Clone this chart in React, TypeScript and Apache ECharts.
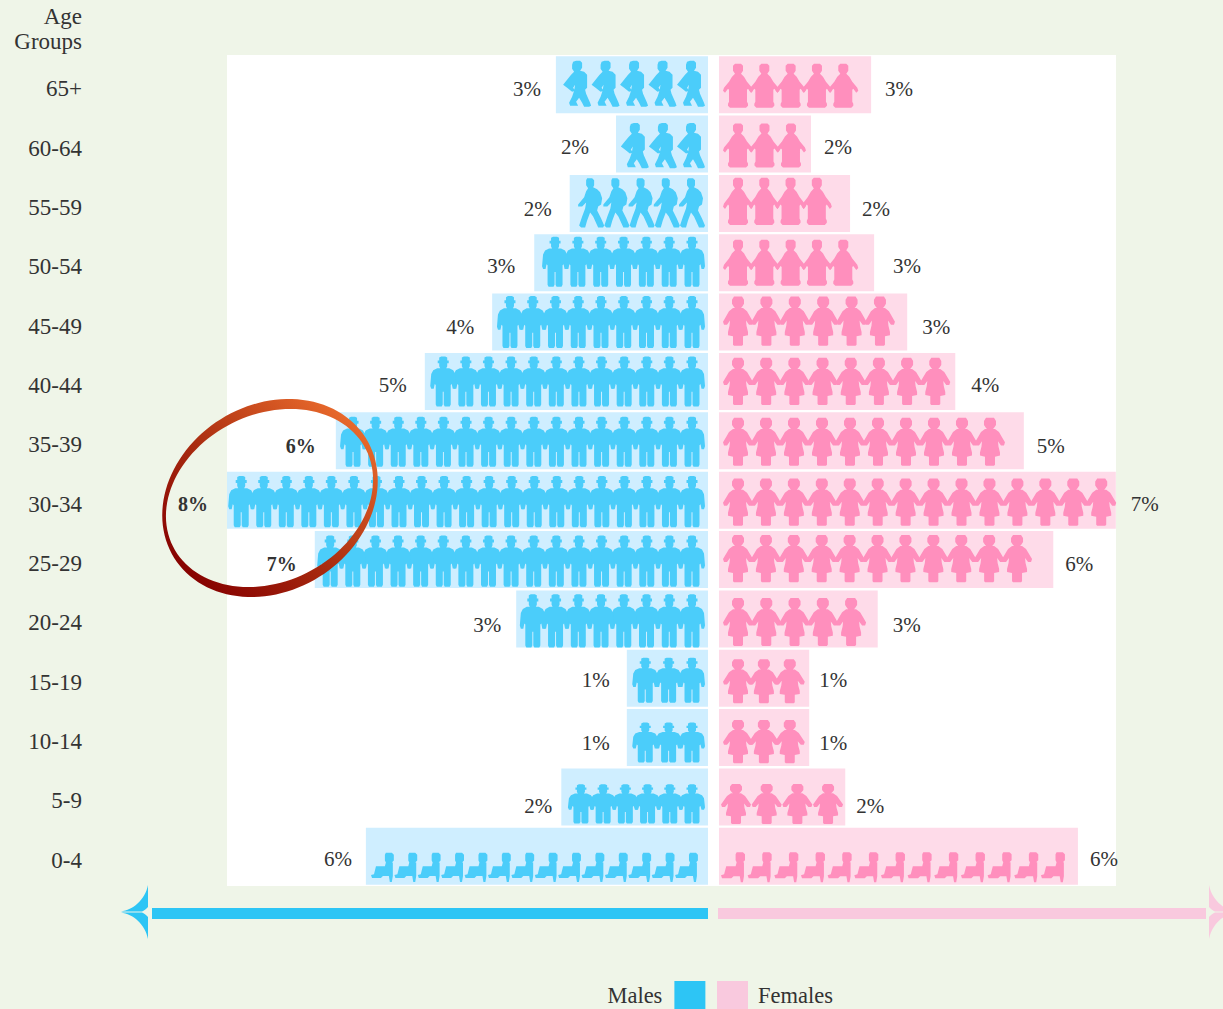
import React, { useEffect, useRef } from "react";
import * as echarts from "echarts";

// ---------- data ----------
const ageGroups = ["65+", "60-64", "55-59", "50-54", "45-49", "40-44", "35-39", "30-34", "25-29", "20-24", "15-19", "10-14", "5-9", "0-4"];
const maleLabels = [3, 2, 2, 3, 4, 5, 6, 8, 7, 3, 1, 1, 2, 6];
const femaleLabels = [3, 2, 2, 3, 3, 4, 5, 7, 6, 3, 1, 1, 2, 6];
// bar lengths as drawn (the artwork is not strictly proportional to its labels)
const maleBars = [2.53, 1.53, 2.3, 2.89, 3.59, 4.71, 6.19, 8, 6.54, 3.19, 1.35, 1.35, 2.44, 5.69];
const femaleBars = [2.53, 1.53, 2.18, 2.58, 3.13, 3.93, 5.07, 6.6, 5.56, 2.64, 1.5, 1.5, 2.1, 5.97];
// number of figures in each chain, and the chain's length in the same units
const maleFigures = [5, 3, 5, 7, 9, 12, 16, 21, 17, 8, 3, 3, 6, 14];
const femaleFigures = [5, 3, 4, 5, 6, 8, 10, 14, 11, 5, 3, 3, 4, 13];
const maleChains = [2.36, 1.4, 2.11, 2.71, 3.46, 4.57, 6.07, 7.93, 6.45, 3.08, 1.21, 1.21, 2.28, 5.44];
const femaleChains = [2.25, 1.38, 1.81, 2.25, 2.86, 3.78, 4.69, 6.54, 5.14, 2.38, 1.36, 1.36, 2.03, 5.72];
const boldMaleRows = ["35-39", "30-34", "25-29"];

// ---------- figure silhouettes ----------
const P_MAN = "path://M9,1 L11,0 H15 L17,1 V4 H18.5 V7 H17 V10 L16,12 H19 L23,14 L25,18 L25.5,24 L26,30 L25,33 H22.5 L21.5,28 L20.5,29 V49 L19.5,51 H14.5 L13.5,49 V36 H12.5 V49 L11.5,51 H6.5 L5.5,49 V29 L4.5,28 L3.5,33 H1 L0,30 L0.5,24 L1,18 L3,14 L7,12 H10 L9,10 V7 H7.5 V4 H9 Z";
const P_ELDER_MAN = "M10,1 L13,0 H17 L19,2 V7 L17,10 L21,11 L24,14 V27 L22,29 L23,33 L27,42 L28,45 L26,46 H21 L19,42 L16,37 L13,41 L15,45 H7 L6,42 L9,36 L11,30 L12,24 L10,27 L12,30 L9,31 L4,27 L0,24 L4,19 L8,14 L11,11 L9,8 V4 Z";
const P_WALKER = "M9,0 H14 L16,2 V7 L15,9 L19,11 L22,14 L24,20 L23,26 L20,28 L19,32 L23,40 L26,47 L25,49 H20 L15,38 L12,34 L9,42 L7,49 H3 L1,47 L4,38 L7,30 L8,24 L4,28 H0 V26 L6,19 L8,13 L10,10 L8,7 V2 Z";
const P_BABY = "M15,0 H21 L23,2 V8 L21,10 H22 V24 L21,30 H19 L18,24 H12 L10,26 H1 L0,23 L3,22 L5,14 H14 L15,10 L14,8 V2 Z";
const P_WOMAN = "path://M11,0 H19 L21,3 V7 L19,10 L18,11 H20 L24,14 L27,19 L30,24 L29,27 H26 L23,23 L23.5,28 L25,34 V37 L20,38 V46 L19,47 H11 L10,46 V38 L5,37 V34 L6.5,28 L7,23 L4,27 H1 L0,24 L3,19 L6,14 L10,11 H12 L11,10 L9,7 V3 Z";
const P_ELDER_WOMAN = "path://M12,0 H18 L20,2 V7 L18,10 L21,13 L24,18 L29,24 L30,27 L28,29 L25,25 L24,26 V38 L25,40 V42 L23,44 H7 L5,42 V40 L6,38 V26 L5,25 L2,29 L0,27 L1,24 L6,18 L9,13 L12,10 L10,7 V2 Z";

// the library mirrors symbols on an inverted axis, so these are drawn reversed for the male side
function mirrored(d: string, w: number) {
  const out = d
    .replace(/([ML])(-?[\d.]+),(-?[\d.]+)/g, (_m, c, x, y) => `${c}${w - parseFloat(x)},${y}`)
    .replace(/H(-?[\d.]+)/g, (_m, x) => `H${w - parseFloat(x)}`);
  return "path://" + out;
}

function ellipsePath(cx: number, cy: number, a: number, b: number, deg: number, dir: number) {
  const r = (deg * Math.PI) / 180;
  const pts: string[] = [];
  for (let i = 0; i < 120; i++) {
    const t = (dir * i * Math.PI) / 60;
    const ex = a * Math.cos(t);
    const ey = b * Math.sin(t);
    const x = cx + ex * Math.cos(r) + ey * Math.sin(r);
    const y = cy - ex * Math.sin(r) + ey * Math.cos(r);
    pts.push(`${i === 0 ? "M" : "L"}${x.toFixed(2)} ${y.toFixed(2)}`);
  }
  return pts.join(" ") + " Z ";
}

const FIN = "M0 26.5 C12 25 24 15 27 0 V22 C25 24 23 26 21 26.5 Z M0 27.5 C12 29 24 39 27 54 V32 C25 30 23 28 21 27.5 Z";
echarts.graphic.registerShape("ageRing", echarts.graphic.extendPath(ellipsePath(270, 498, 113, 93, 32, 1) + ellipsePath(269.5, 498, 108, 83.6, 26.6, -1), {}));
echarts.graphic.registerShape("arrowFin", echarts.graphic.extendPath(FIN, {}));

const FONT = "Liberation Serif";
const INK = "#333333";
const BG = "#eff5e8";
const MALE = "#2dc5f5";
const FEMALE = "#f9c9de";
const MALE_BAR = "#cfeeff";
const FEMALE_BAR = "#fedbe9";
const MALE_FIG = "#4bcdfa";
const FEMALE_FIG = "#ff8fbd";

// layout per row (top to bottom)
const maleLabelGap = [15, 27, 18, 19, 18, 18, 20, 19, 18, 15, 17, 17, 9, 14];
const maleLabelDy = [4, 3, 6, 3, 5, 4, 5, 4, 4, 6, 2, 5, 9, 3];
const femaleLabelGap = [14, 13, 12, 19, 15, 16, 13, 15, 12, 15, 10, 10, 11, 12];
const femaleLabelDy = [4, 3, 6, 3, 5, 4, 5, 4, 4, 6, 2, 5, 9, 3];
const maleFigH = [46, 45, 49, 50, 52, 50, 50, 51, 51, 53, 45, 40, 39, 29];
const maleFigDy = [-1, 1.5, -0.5, -1, 0, 0, 1, 1.5, 1.5, 2, 2, 5, 7, 11];
const femaleFigH = [44, 44, 47, 46, 49, 47, 48, 47, 47, 48, 44, 43, 40, 30];
const femaleFigDy = [1, 1.5, -2, 0, -1, 0, 1, 2, -1, 3, 3, 4, 7, 11];

function maleShape(i: number): [string, number] {
  if (i <= 1) return [mirrored(P_ELDER_MAN, 28), 28];
  if (i === 2) return [mirrored(P_WALKER, 26), 26];
  if (i === 13) return [mirrored(P_BABY, 23), 23];
  return [P_MAN, 26];
}
function femaleShape(i: number): [string, number] {
  if (i <= 3) return [P_ELDER_WOMAN, 30];
  if (i === 13) return ["path://" + P_BABY, 24];
  return [P_WOMAN, 30];
}

function buildOption() {
  const pxPerUnit = 481 / 8;
  const labelStyle = { show: true, fontFamily: FONT, fontSize: 21, color: INK };
  const maleBarData = maleBars.map((v, i) => {
    const bold = boldMaleRows.includes(ageGroups[i]);
    return {
      value: v,
      label: {
        ...labelStyle,
        position: "left",
        distance: maleLabelGap[i],
        offset: [0, maleLabelDy[i]],
        fontWeight: bold ? "bold" : "normal",
        fontSize: bold ? 20 : 21,
        formatter: `${maleLabels[i]}%`,
      },
    };
  });
  const femaleBarData = femaleBars.map((v, i) => ({
    value: v,
    label: {
      ...labelStyle,
      position: "right",
      distance: femaleLabelGap[i],
      offset: [0, femaleLabelDy[i]],
      formatter: `${femaleLabels[i]}%`,
    },
  }));
  const maleFigData = maleChains.map((v, i) => {
    const [symbol, w] = maleShape(i);
    return {
      value: v,
      symbol,
      symbolRepeat: maleFigures[i],
      symbolBoundingData: v,
      symbolSize: [w, maleFigH[i]],
      symbolOffset: [i === 13 ? -10 : -3, maleFigDy[i]],
    };
  });
  const femaleFigData = femaleChains.map((v, i) => {
    const [symbol, w] = femaleShape(i);
    return {
      value: v,
      symbol,
      symbolRepeat: femaleFigures[i],
      symbolBoundingData: v,
      symbolSize: [w, femaleFigH[i]],
      symbolOffset: [i >= 12 ? 2 : 4, femaleFigDy[i]],
    };
  });

  return {
    animation: false,
    backgroundColor: BG,
    textStyle: { fontFamily: FONT },
    grid: [
      { left: 227, top: 55, width: 481, height: 831, containLabel: false },
      { left: 719, top: 55, width: 397, height: 831, containLabel: false },
    ],
    xAxis: [
      { type: "value", gridIndex: 0, inverse: true, min: 0, max: 8, show: false },
      { type: "value", gridIndex: 1, min: 0, max: 397 / pxPerUnit, show: false },
    ],
    yAxis: [
      {
        type: "category",
        gridIndex: 0,
        inverse: true,
        position: "left",
        data: ageGroups,
        axisLine: { show: false, onZero: false },
        axisTick: { show: false },
        splitLine: { show: false },
        axisLabel: { margin: 145, align: "right", verticalAlign: "top", lineHeight: 8, fontFamily: FONT, fontSize: 23, color: INK },
      },
      { type: "category", gridIndex: 1, inverse: true, data: ageGroups, show: false },
    ],
    legend: [
      {
        left: 607.4,
        top: 981,
        padding: 0,
        align: "right",
        icon: "rect",
        itemWidth: 31,
        itemHeight: 28,
        selectedMode: false,
        textStyle: { fontFamily: FONT, fontSize: 22.5, color: INK, padding: [8, 7, 0, 0] },
        data: [{ name: "Males", itemStyle: { color: MALE } }],
      },
      {
        left: 717,
        top: 981,
        padding: 0,
        align: "left",
        icon: "rect",
        itemWidth: 31,
        itemHeight: 28,
        selectedMode: false,
        textStyle: { fontFamily: FONT, fontSize: 22.5, color: INK, padding: [8, 0, 0, 5] },
        data: [{ name: "Females", itemStyle: { color: FEMALE } }],
      },
    ],
    series: [
      { name: "Males", type: "bar", xAxisIndex: 0, yAxisIndex: 0, barWidth: 57, itemStyle: { color: MALE_BAR }, data: maleBarData, silent: true },
      { name: "Females", type: "bar", xAxisIndex: 1, yAxisIndex: 1, barWidth: 57, itemStyle: { color: FEMALE_BAR }, data: femaleBarData, silent: true },
      { name: "Male figures", type: "pictorialBar", xAxisIndex: 0, yAxisIndex: 0, z: 3, itemStyle: { color: MALE_FIG }, symbolRepeat: true, data: maleFigData, silent: true },
      { name: "Female figures", type: "pictorialBar", xAxisIndex: 1, yAxisIndex: 1, z: 3, itemStyle: { color: FEMALE_FIG }, symbolRepeat: true, data: femaleFigData, silent: true },
    ],
    graphic: {
      elements: [
        { type: "rect", z: -10, shape: { x: 227, y: 55, width: 889, height: 831 }, style: { fill: "#ffffff" }, silent: true },
        {
          type: "text",
          z: 5,
          x: 82,
          y: 4,
          style: { text: "Age\nGroups", align: "right", font: `23px "${FONT}"`, fill: INK, lineHeight: 25 },
          silent: true,
        },
        { type: "rect", z: 5, shape: { x: 152, y: 908, width: 556, height: 11 }, style: { fill: MALE }, silent: true },
        { type: "rect", z: 5, shape: { x: 718, y: 908, width: 488, height: 11 }, style: { fill: FEMALE }, silent: true },
        { type: "arrowFin", z: 5, x: 121, y: 885, style: { fill: MALE }, silent: true },
        { type: "arrowFin", z: 5, x: 1236, y: 885, scaleX: -1, style: { fill: FEMALE }, silent: true },
        {
          type: "ageRing",
          z: 100,
          style: {
            fill: new echarts.graphic.LinearGradient(0.1, 0.9, 0.9, 0.1, [
              { offset: 0, color: "#850000" },
              { offset: 0.45, color: "#a92c10" },
              { offset: 1, color: "#ea6b2c" },
            ]),
          },
          silent: true,
        },
      ],
    },
  };
}

export default function App() {
  const ref = useRef<HTMLDivElement>(null);
  useEffect(() => {
    document.body.style.margin = "0";
    document.body.style.overflow = "hidden";
    const chart = echarts.init(ref.current!, undefined, { renderer: "svg" });
    chart.setOption(buildOption() as any);
    return () => chart.dispose();
  }, []);
  return <div ref={ref} style={{ width: 1223, height: 1009 }} />;
}
